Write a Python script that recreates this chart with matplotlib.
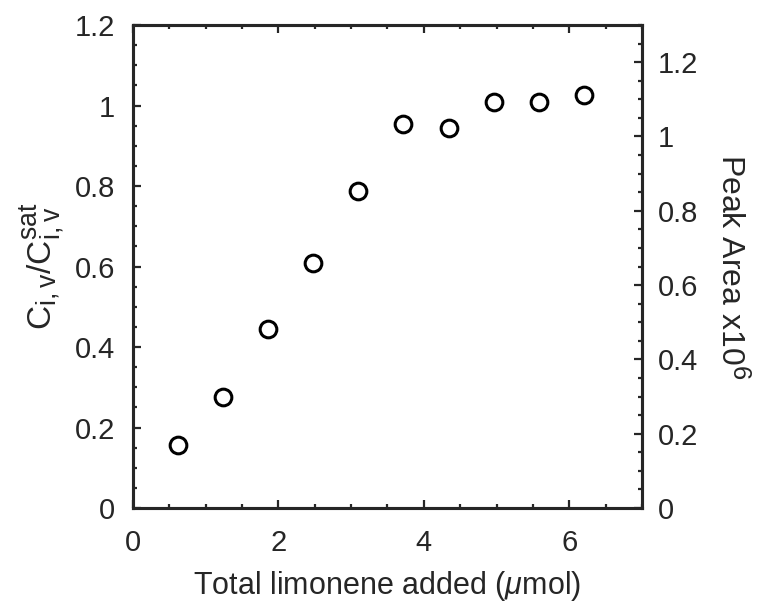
import matplotlib
matplotlib.use("Agg")
import matplotlib.pyplot as plt
from matplotlib.ticker import MultipleLocator, FuncFormatter
import matplotlib._mathtext as _mt

_mt.SHRINK_FACTOR = 0.8

INK = '#262626'
plt.rcParams['font.family'] = ['Liberation Sans', 'DejaVu Sans']
plt.rcParams['mathtext.fontset'] = 'custom'
plt.rcParams['mathtext.rm'] = 'Liberation Sans'
plt.rcParams['mathtext.it'] = 'Liberation Sans:italic'
plt.rcParams['mathtext.sf'] = 'Liberation Sans'
plt.rcParams['text.color'] = INK
plt.rcParams['axes.labelcolor'] = INK
plt.rcParams['xtick.color'] = INK
plt.rcParams['ytick.color'] = INK
plt.rcParams['axes.edgecolor'] = INK

limonene_umol = [0.62, 1.24, 1.86, 2.48, 3.10, 3.72, 4.34, 4.96, 5.58, 6.20]
ratio = [0.156, 0.276, 0.445, 0.609, 0.787, 0.954, 0.944, 1.008, 1.008, 1.026]
right_ticks = [0, 0.2, 0.4, 0.6, 0.8, 1.0, 1.2]

fig = plt.figure(figsize=(7.59, 6.06), dpi=100)
ax = fig.add_axes([0.175, 0.1617, 0.671, 0.797])
ax.plot(limonene_umol, ratio, linestyle='none', marker='o', markersize=12,
        markerfacecolor='none', markeredgecolor='black', markeredgewidth=2.2)
ax.set_xlim(0, 7)
ax.set_ylim(0, 1.2)
fmt = FuncFormatter(lambda v, p: '%g' % round(v, 6))
ax.xaxis.set_major_locator(MultipleLocator(2))
ax.xaxis.set_minor_locator(MultipleLocator(0.5))
ax.yaxis.set_major_locator(MultipleLocator(0.2))
ax.yaxis.set_minor_locator(MultipleLocator(0.05))
ax.xaxis.set_major_formatter(fmt)
ax.yaxis.set_major_formatter(fmt)
ax.tick_params(which='both', direction='in', top=True, right=False, labelsize=21, width=1.6)
ax.tick_params(axis='x', which='major', pad=15)
ax.tick_params(axis='y', which='major', pad=13)
ax.tick_params(which='major', length=5.5)
ax.tick_params(which='minor', length=3)
for s in ax.spines.values():
    s.set_linewidth(2.2)

ax2 = ax.twinx()
ax2.set_ylim(0, 1.3)
ax2.set_yticks(right_ticks)
ax2.yaxis.set_minor_locator(MultipleLocator(0.05))
ax2.yaxis.set_major_formatter(fmt)
ax2.tick_params(which='both', direction='in', labelsize=21, width=1.6)
ax2.tick_params(which='major', length=5.5, pad=11)
ax2.tick_params(which='minor', length=3)
for s in ax2.spines.values():
    s.set_linewidth(2.2)

ax.set_xlabel(r'Total limonene added ($\mathit{\mu}$mol)', fontsize=22, labelpad=9)
ax.set_ylabel(r'$\mathrm{C_{i,v}/C_{i,v}^{sat}}$', fontsize=24, labelpad=6)
ax2.set_ylabel(r'Peak Area x10$^{6}$', fontsize=23, rotation=-90, labelpad=36)

fig.savefig('out.png', dpi=100)
